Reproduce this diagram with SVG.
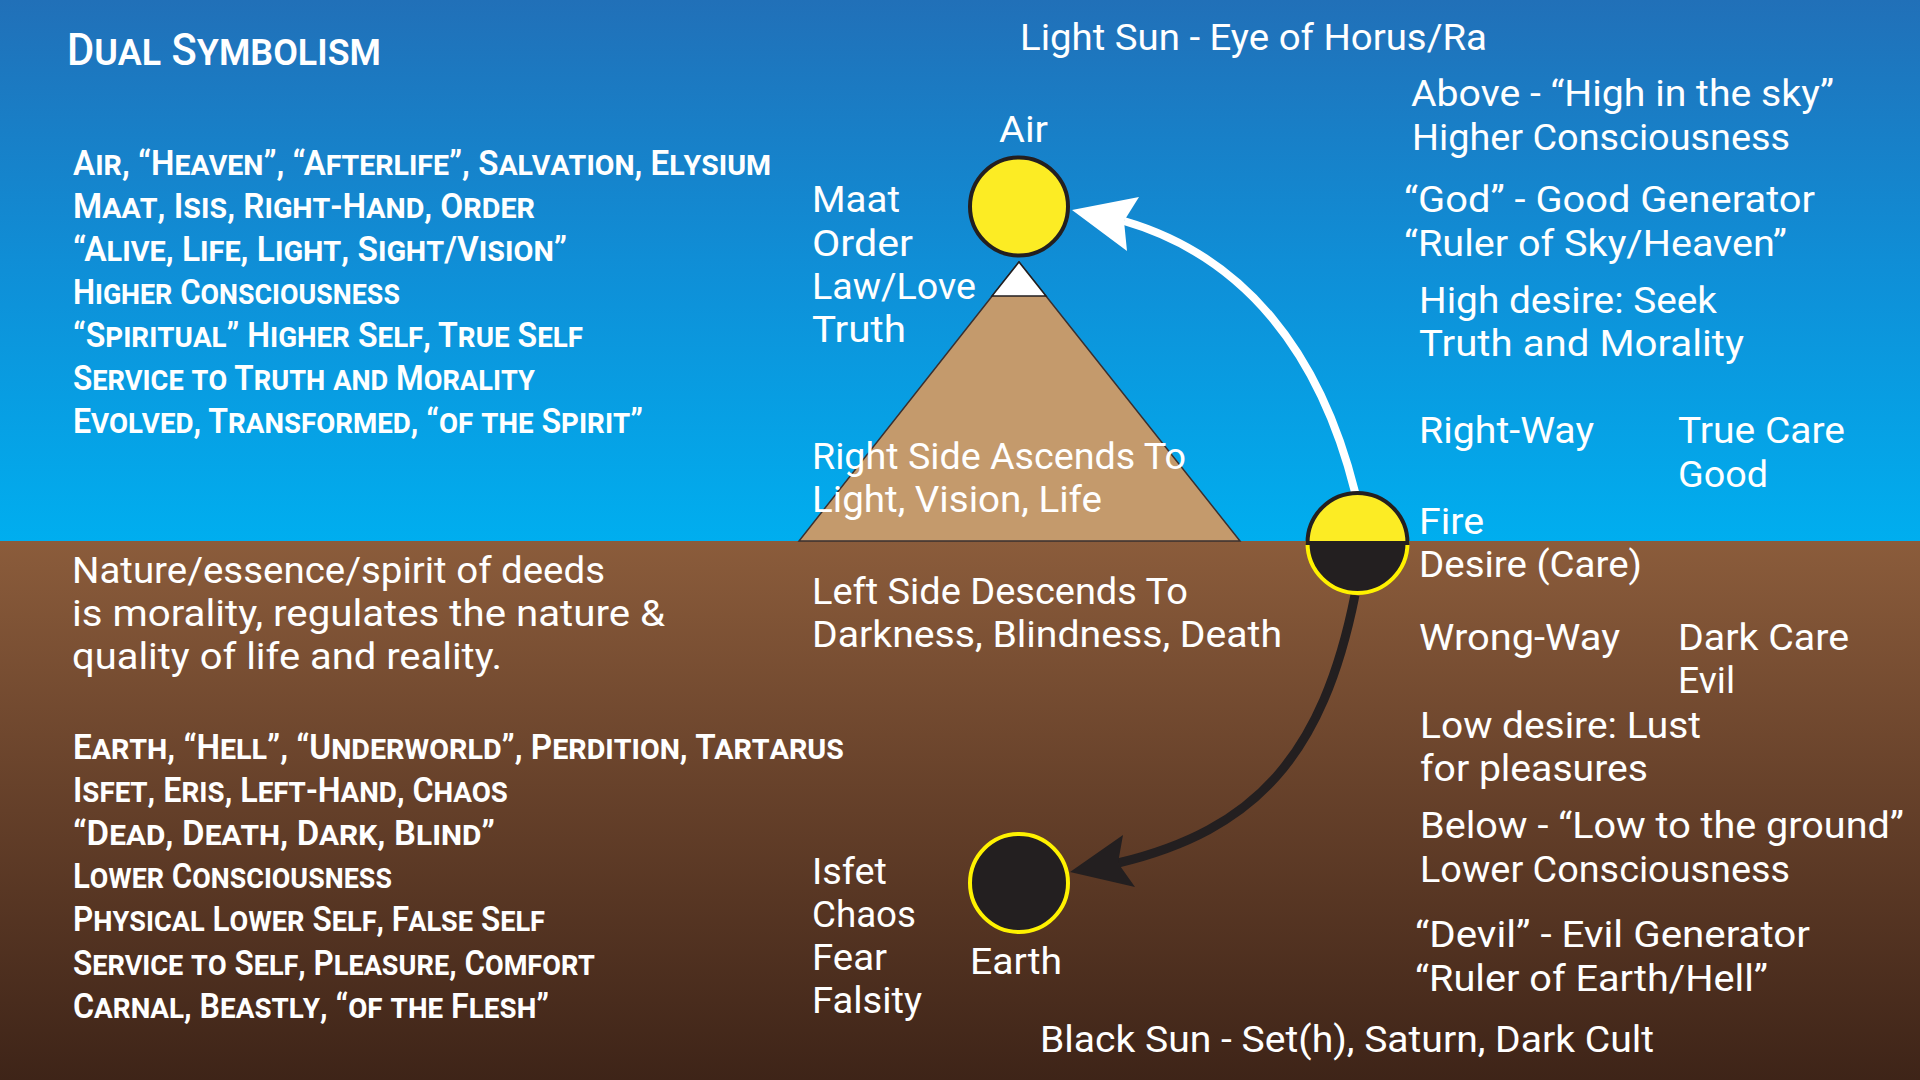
<svg xmlns="http://www.w3.org/2000/svg" width="1920" height="1080" viewBox="0 0 1920 1080">
  <defs>
    <linearGradient id="sky" x1="0" y1="0" x2="0" y2="1">
      <stop offset="0" stop-color="#2170b8"/>
      <stop offset="0.5" stop-color="#0f8fd7"/>
      <stop offset="1" stop-color="#00aeef"/>
    </linearGradient>
    <linearGradient id="ground" x1="0" y1="0" x2="0" y2="1">
      <stop offset="0" stop-color="#8b5c3b"/>
      <stop offset="0.5" stop-color="#643f29"/>
      <stop offset="1" stop-color="#3e2418"/>
    </linearGradient>
    <style>
      .sc { font-family: Roboto, "Liberation Sans", sans-serif; font-weight: 600; font-size: 35px; font-variant: small-caps; fill: #ffffff; }
      .title { font-family: Roboto, "Liberation Sans", sans-serif; font-weight: 500; font-size: 45px; font-variant: small-caps; fill: #ffffff; }
      .t { font-family: Roboto, "Liberation Sans", sans-serif; font-size: 36px; fill: #ffffff; }
      .sun { fill: #fcec24; stroke: #231f20; stroke-width: 4; }
      .dark { fill: #231f20; stroke: #fff200; stroke-width: 4; }
      .up { fill: none; stroke: #ffffff; stroke-width: 8; }
      .down { fill: none; stroke: #231f20; stroke-width: 9; }
    </style>
  </defs>

  <g id="background">
    <rect x="0" y="0" width="1920" height="541" fill="url(#sky)"/>
    <rect x="0" y="541" width="1920" height="539" fill="url(#ground)"/>
  </g>

  <g id="pyramid">
    <polygon points="1019,262 1240,541 799,541" fill="#c49a6c" stroke="#3a3030" stroke-width="1.5"/>
    <polygon points="1019,262 1046,296 992,296" fill="#ffffff" stroke="#231f20" stroke-width="1.5"/>
  </g>

  <g id="connectors">
    <path class="up" d="M1355,492 C1320,352 1244,256 1124,221"/>
    <polygon points="1072,210 1139,197 1124,221 1127,251" fill="#ffffff"/>
    <path class="down" d="M1355,595 C1323,755 1256,830 1118,863"/>
    <polygon points="1070,872 1123,835 1118,863 1135,887" fill="#231f20"/>
  </g>

  <g id="air">
    <circle class="sun" cx="1019" cy="206.5" r="49"/>
    <text class="t" x="999" y="142" textLength="49" lengthAdjust="spacingAndGlyphs">Air</text>
  </g>

  <g id="fire">
    <path d="M1307.5,543 A50,50 0 0 0 1407.5,543 Z" fill="#231f20" stroke="#fff200" stroke-width="4"/>
    <path d="M1307.5,543 A50,50 0 0 1 1407.5,543 Z" fill="#fcec24" stroke="#231f20" stroke-width="4"/>
    <text class="t" x="1419" y="534" textLength="65" lengthAdjust="spacingAndGlyphs">Fire</text>
    <text class="t" x="1419" y="577" textLength="223" lengthAdjust="spacingAndGlyphs">Desire (Care)</text>
  </g>

  <g id="earth">
    <circle class="dark" cx="1019" cy="883" r="49"/>
    <text class="t" x="970" y="974" textLength="92" lengthAdjust="spacingAndGlyphs">Earth</text>
  </g>

  <g id="title">
    <text class="title" x="67" y="65" textLength="314" lengthAdjust="spacingAndGlyphs">Dual Symbolism</text>
  </g>

  <g id="heaven-list">
    <text class="sc" x="73" y="175" textLength="698" lengthAdjust="spacingAndGlyphs">Air, “Heaven”, “Afterlife”, Salvation, Elysium</text>
    <text class="sc" x="73" y="218" textLength="462" lengthAdjust="spacingAndGlyphs">Maat, Isis, Right-Hand, Order</text>
    <text class="sc" x="73" y="261" textLength="494" lengthAdjust="spacingAndGlyphs">“Alive, Life, Light, Sight/Vision”</text>
    <text class="sc" x="73" y="304" textLength="327" lengthAdjust="spacingAndGlyphs">Higher Consciousness</text>
    <text class="sc" x="73" y="347" textLength="510" lengthAdjust="spacingAndGlyphs">“Spiritual” Higher Self, True Self</text>
    <text class="sc" x="73" y="390" textLength="462" lengthAdjust="spacingAndGlyphs">Service to Truth and Morality</text>
    <text class="sc" x="73" y="433" textLength="570" lengthAdjust="spacingAndGlyphs">Evolved, Transformed, “of the Spirit”</text>
  </g>

  <g id="morality-note">
    <text class="t" x="72" y="583" textLength="533" lengthAdjust="spacingAndGlyphs">Nature/essence/spirit of deeds</text>
    <text class="t" x="72" y="626" textLength="593" lengthAdjust="spacingAndGlyphs">is morality, regulates the nature &amp;</text>
    <text class="t" x="72" y="669" textLength="430" lengthAdjust="spacingAndGlyphs">quality of life and reality.</text>
  </g>

  <g id="hell-list">
    <text class="sc" x="73" y="759" textLength="771" lengthAdjust="spacingAndGlyphs">Earth, “Hell”, “Underworld”, Perdition, Tartarus</text>
    <text class="sc" x="73" y="802" textLength="435" lengthAdjust="spacingAndGlyphs">Isfet, Eris, Left-Hand, Chaos</text>
    <text class="sc" x="73" y="845" textLength="422" lengthAdjust="spacingAndGlyphs">“Dead, Death, Dark, Blind”</text>
    <text class="sc" x="73" y="888" textLength="319" lengthAdjust="spacingAndGlyphs">Lower Consciousness</text>
    <text class="sc" x="73" y="931" textLength="472" lengthAdjust="spacingAndGlyphs">Physical Lower Self, False Self</text>
    <text class="sc" x="73" y="975" textLength="522" lengthAdjust="spacingAndGlyphs">Service to Self, Pleasure, Comfort</text>
    <text class="sc" x="73" y="1018" textLength="476" lengthAdjust="spacingAndGlyphs">Carnal, Beastly, “of the Flesh”</text>
  </g>

  <g id="maat-labels">
    <text class="t" x="812" y="212" textLength="88" lengthAdjust="spacingAndGlyphs">Maat</text>
    <text class="t" x="812" y="256" textLength="101" lengthAdjust="spacingAndGlyphs">Order</text>
    <text class="t" x="812" y="299" textLength="164" lengthAdjust="spacingAndGlyphs">Law/Love</text>
    <text class="t" x="812" y="342" textLength="94" lengthAdjust="spacingAndGlyphs">Truth</text>
  </g>

  <g id="sides">
    <text class="t" x="812" y="469" textLength="374" lengthAdjust="spacingAndGlyphs">Right Side Ascends To</text>
    <text class="t" x="812" y="512" textLength="290" lengthAdjust="spacingAndGlyphs">Light, Vision, Life</text>
    <text class="t" x="812" y="604" textLength="376" lengthAdjust="spacingAndGlyphs">Left Side Descends To</text>
    <text class="t" x="812" y="647" textLength="470" lengthAdjust="spacingAndGlyphs">Darkness, Blindness, Death</text>
  </g>

  <g id="isfet-labels">
    <text class="t" x="812" y="884" textLength="75" lengthAdjust="spacingAndGlyphs">Isfet</text>
    <text class="t" x="812" y="927" textLength="104" lengthAdjust="spacingAndGlyphs">Chaos</text>
    <text class="t" x="812" y="970" textLength="75" lengthAdjust="spacingAndGlyphs">Fear</text>
    <text class="t" x="812" y="1013" textLength="110" lengthAdjust="spacingAndGlyphs">Falsity</text>
  </g>

  <g id="light-sun">
    <text class="t" x="1020" y="50" textLength="467" lengthAdjust="spacingAndGlyphs">Light Sun - Eye of Horus/Ra</text>
    <text class="t" x="1411" y="106" textLength="423" lengthAdjust="spacingAndGlyphs">Above - “High in the sky”</text>
    <text class="t" x="1412" y="150" textLength="378" lengthAdjust="spacingAndGlyphs">Higher Consciousness</text>
    <text class="t" x="1404" y="212" textLength="411" lengthAdjust="spacingAndGlyphs">“God” - Good Generator</text>
    <text class="t" x="1404" y="256" textLength="383" lengthAdjust="spacingAndGlyphs">“Ruler of Sky/Heaven”</text>
    <text class="t" x="1419" y="313" textLength="298" lengthAdjust="spacingAndGlyphs">High desire: Seek</text>
    <text class="t" x="1419" y="356" textLength="325" lengthAdjust="spacingAndGlyphs">Truth and Morality</text>
    <text class="t" x="1419" y="443" textLength="175" lengthAdjust="spacingAndGlyphs">Right-Way</text>
    <text class="t" x="1678" y="443" textLength="167" lengthAdjust="spacingAndGlyphs">True Care</text>
    <text class="t" x="1678" y="487" textLength="90" lengthAdjust="spacingAndGlyphs">Good</text>
  </g>

  <g id="black-sun">
    <text class="t" x="1419" y="650" textLength="201" lengthAdjust="spacingAndGlyphs">Wrong-Way</text>
    <text class="t" x="1678" y="650" textLength="171" lengthAdjust="spacingAndGlyphs">Dark Care</text>
    <text class="t" x="1678" y="693" textLength="57" lengthAdjust="spacingAndGlyphs">Evil</text>
    <text class="t" x="1420" y="738" textLength="281" lengthAdjust="spacingAndGlyphs">Low desire: Lust</text>
    <text class="t" x="1420" y="781" textLength="228" lengthAdjust="spacingAndGlyphs">for pleasures</text>
    <text class="t" x="1420" y="838" textLength="484" lengthAdjust="spacingAndGlyphs">Below - “Low to the ground”</text>
    <text class="t" x="1420" y="882" textLength="370" lengthAdjust="spacingAndGlyphs">Lower Consciousness</text>
    <text class="t" x="1415" y="947" textLength="395" lengthAdjust="spacingAndGlyphs">“Devil” - Evil Generator</text>
    <text class="t" x="1415" y="991" textLength="353" lengthAdjust="spacingAndGlyphs">“Ruler of Earth/Hell”</text>
    <text class="t" x="1040" y="1052" textLength="614" lengthAdjust="spacingAndGlyphs">Black Sun - Set(h), Saturn, Dark Cult</text>
  </g>
</svg>
